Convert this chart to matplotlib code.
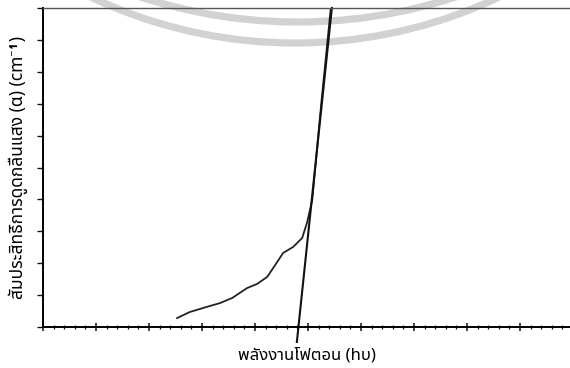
import numpy as np
import matplotlib
matplotlib.use('Agg')
import matplotlib.pyplot as plt
from matplotlib.ticker import MultipleLocator, NullFormatter
from matplotlib.patches import Arc

# absorption curve (arbitrary units, axes have no numbers)
energy = [2.53, 2.77, 3.09, 3.34, 3.57, 3.85, 4.04, 4.23, 4.38, 4.53, 4.72, 4.89, 4.98, 5.08, 5.25, 5.43]
alpha = [0.28, 0.47, 0.63, 0.75, 0.91, 1.22, 1.35, 1.57, 1.94, 2.32, 2.51, 2.79, 3.26, 3.98, 7.0, 10.0]

# straight-line extrapolation to the energy axis
fit_x = [4.79, 5.45]
fit_y = [-0.47, 10.0]

xlabel = 'พลังงานโฟตอน (hυ)'
ylabel = 'สัมประสิทธิ์การดูดกลืนแสง (α) (cm⁻¹)'

plt.rcParams['font.family'] = ['Noto Sans Thai', 'Noto Serif Thai', 'Loma', 'Garuda', 'Tlwg Typo',
                               'Noto Sans', 'DejaVu Sans']

fig = plt.figure(figsize=(5.7, 3.68), dpi=100)

# faint watermark arcs from the scanned page (behind the plot)
wm = fig.add_axes([0, 0, 1, 1], facecolor='white')
wm.set_xlim(0, 570)
wm.set_ylim(368, 0)
wm.axis('off')
wm.add_patch(Arc((298, -487), 2*509, 2*509, theta1=0, theta2=180, lw=5.2, color='#d2d2d2'))
wm.add_patch(Arc((295, -434), 2*477, 2*477, theta1=0, theta2=180, lw=5.2, color='#d2d2d2'))

ax = fig.add_axes([43/570, 41/368, 527/570, 319/368], facecolor='none')

ax.plot(energy, alpha, color='#222222', lw=1.3)
ax.plot(fit_x, fit_y, color='#111111', lw=1.5, clip_on=False)

ax.set_xlim(0, 527/53)
ax.set_ylim(0, 10)

ax.xaxis.set_major_locator(MultipleLocator(1))
ax.xaxis.set_minor_locator(MultipleLocator(0.2))
ax.yaxis.set_major_locator(MultipleLocator(1))
ax.xaxis.set_major_formatter(NullFormatter())
ax.yaxis.set_major_formatter(NullFormatter())
ax.tick_params(axis='x', which='major', direction='inout', length=6, width=1.1, color='#111111')
ax.tick_params(axis='x', which='minor', direction='inout', length=3, width=0.9, color='#111111')
ax.tick_params(axis='y', which='major', direction='out', length=4, width=1.0, color='#111111')

ax.spines['right'].set_visible(False)
ax.spines['left'].set_linewidth(1.4)
ax.spines['bottom'].set_linewidth(1.4)
ax.spines['top'].set_linewidth(1.0)
ax.spines['top'].set_color('#555555')

ax.set_xlabel(xlabel, fontsize=12, fontweight='bold', labelpad=8)
ax.set_ylabel(ylabel, fontsize=12.5, fontweight='bold', labelpad=3)

fig.savefig('out.png', dpi=100)
